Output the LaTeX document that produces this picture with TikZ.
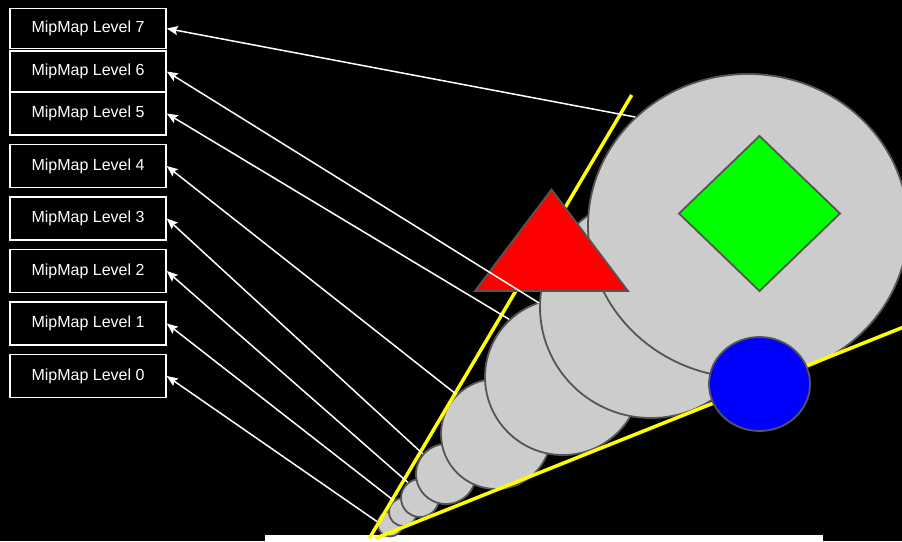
\documentclass[tikz,border=0pt]{standalone}
\usepackage{fontspec}
\setsansfont{Liberation Sans}
\usetikzlibrary{arrows.meta,shapes.geometric,positioning}
\definecolor{MipGray}{RGB}{204,204,204}
\definecolor{MipEdge}{RGB}{85,85,85}
\definecolor{MipYellow}{RGB}{255,255,0}
\definecolor{MipRed}{RGB}{255,0,0}
\definecolor{MipGreen}{RGB}{0,255,0}
\definecolor{MipBlue}{RGB}{0,0,255}
\tikzset{
  lbox/.style={draw=white,line width=1.5pt,text=white,minimum width=156pt,minimum height=43pt,inner sep=0pt,font=\sffamily\fontsize{16}{19}\selectfont},
  disc/.style={ellipse,draw=MipEdge,fill=MipGray,line width=1.8pt,inner sep=0pt},
  shapeline/.style={draw=MipEdge,line width=1.8pt},
  yline/.style={MipYellow,line width=3.5pt},
  arr/.style={-{Stealth[length=11pt,width=9pt,inset=2pt]},white,line width=1.5pt},
}
\begin{document}
\begin{tikzpicture}[x=1pt,y=-1pt]
    \fill[black] (0,0) rectangle (902,541);
    \useasboundingbox (0,0) rectangle (902,541);
    \fill[white] (265,535) rectangle (823,541);
    % level labels
    \node[lbox] (lv0) at (88,376) {MipMap Level 0};
    \node[lbox,above=8pt of lv0] (lv1) {MipMap Level 1};
    \node[lbox,above=8pt of lv1] (lv2) {MipMap Level 2};
    \node[lbox,above=8pt of lv2] (lv3) {MipMap Level 3};
    \node[lbox,above=8pt of lv3] (lv4) {MipMap Level 4};
    \node[lbox,above=8pt of lv4] (lv5) {MipMap Level 5};
    \node[lbox,minimum height=41pt,above=-1.5pt of lv5] (lv6) {MipMap Level 6};
    \node[lbox,minimum height=40pt,above=1pt of lv6] (lv7) {MipMap Level 7};
    % footprints, smallest first
    \node[disc,minimum width=25pt,minimum height=25pt] (c0) at (390,524) {};
    \node[disc,minimum width=28pt,minimum height=28pt] (c1) at (403,512) {};
    \node[disc,minimum width=38pt,minimum height=38pt] (c2) at (420,498) {};
    \node[disc,minimum width=60pt,minimum height=60pt] (c3) at (446,474) {};
    \node[disc,minimum width=110pt,minimum height=110pt] (c4) at (496,434) {};
    \node[disc,minimum width=156pt,minimum height=156pt] (c5) at (563,377) {};
    \node[disc,minimum width=222pt,minimum height=222pt] (c6) at (651,307) {};
    \node[disc,minimum width=320pt,minimum height=304pt] (c7) at (748,226) {};
    % cone
    \draw[yline] (369.3,538.5) -- (631.7,95);
    \draw[yline] (375,538.5) -- (905,326.5);
    \node[disc,fill=MipBlue,minimum width=101pt,minimum height=94pt] (dot) at (759.5,384) {};
    \draw[shapeline,fill=MipRed] (475,291) -- (551.5,189.5) -- (628,291) -- cycle;
    \draw[shapeline,fill=MipGreen] (679,213.5) -- (759.5,136) -- (840,213.5) -- (759.5,291) -- cycle;
    % pointers
    \draw[arr] (c7.136) -- (lv7.east);
    \draw[arr] (c6.178) -- (lv6.east);
    \draw[arr] (c5.133) -- (lv5.east);
    \draw[arr] (c4.135) -- (lv4.east);
    \draw[arr] (c3.139) -- (lv3.east);
    \draw[arr] (c2.128) -- (lv2.east);
    \draw[arr] (c1.129) -- (lv1.east);
    \draw[arr] (c0.169) -- (lv0.east);
\end{tikzpicture}
\end{document}
